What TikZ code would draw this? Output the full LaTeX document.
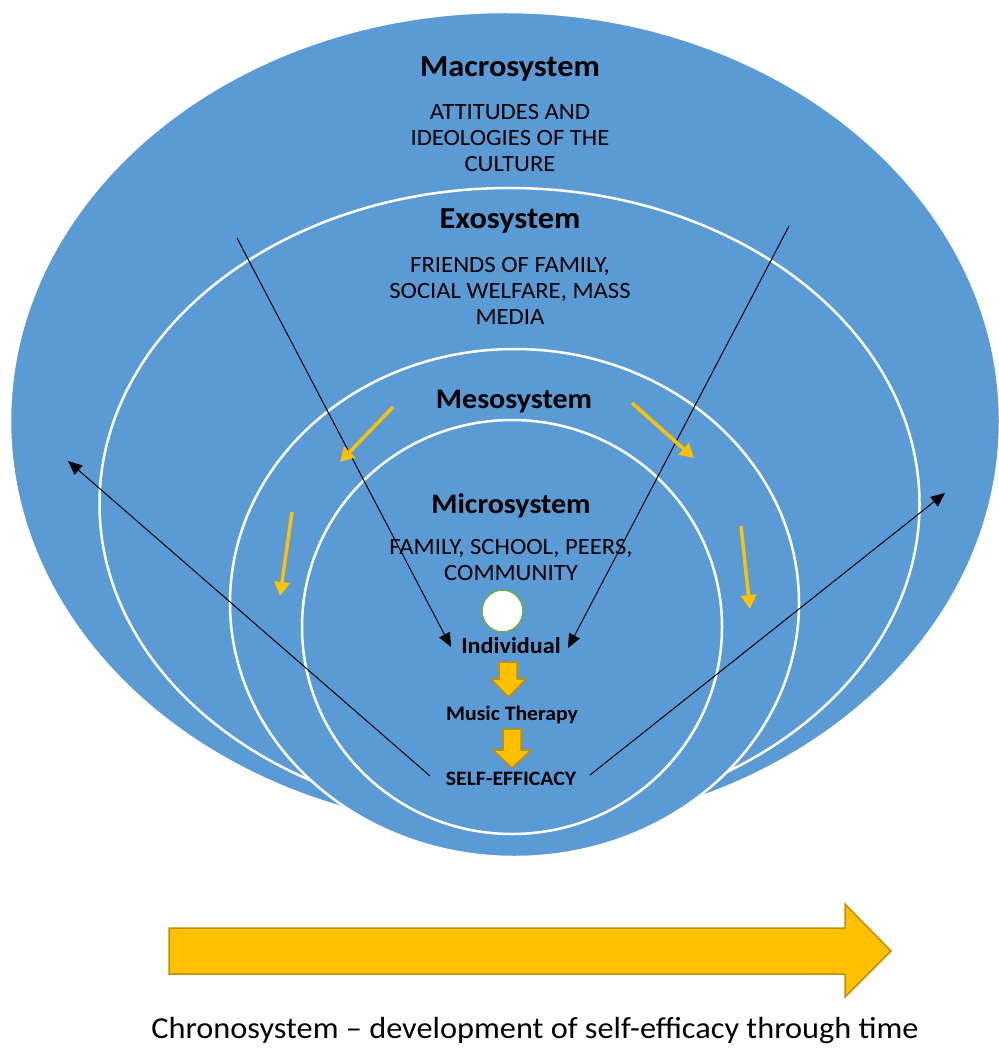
\documentclass[tikz,border=0pt]{standalone}
\usepackage{fontspec}
\setmainfont{Carlito}[FakeStretch=1.06]
\usetikzlibrary{arrows.meta,shapes.geometric}
\definecolor{ringblue}{HTML}{5B9BD5}
\definecolor{gold}{HTML}{FFC000}
\definecolor{golddark}{HTML}{BF9000}
\definecolor{leafgreen}{HTML}{70AD47}
\tikzset{
  ring/.style={fill=ringblue, draw=white, line width=2.5pt},
  title/.style={font=\bfseries\fontsize{30.5}{36}\selectfont, inner sep=0pt, anchor=base},
  subtitle/.style={font=\bfseries\fontsize{28.3}{34}\selectfont, inner sep=0pt, anchor=base},
  body/.style={font=\fontsize{23.3}{26}\selectfont, align=center, inner sep=0pt, anchor=base},
  small/.style={font=\bfseries\fontsize{20.5}{24}\selectfont, inner sep=0pt, anchor=base},
  influence/.style={-{Triangle[length=14pt,width=12pt]}, line width=1pt, black},
  flow/.style={-{Triangle[length=14pt,width=15pt]}, line width=3.5pt, gold},
  blockarrow/.style={fill=gold, draw=golddark, line width=1.5pt, line join=miter},
}
\begin{document}
\begin{tikzpicture}[x=1pt,y=-1pt]
\useasboundingbox (0,0) rectangle (998,1048);
% ellipses
\draw[ring] (505,421) ellipse [x radius=495pt, y radius=409pt];
\draw[ring] (509.5,504) ellipse [x radius=410pt, y radius=316pt];
\draw[ring] (514.5,603) ellipse [x radius=284.5pt, y radius=254pt];
\draw[ring] (512,627) ellipse [x radius=210pt, y radius=207pt];
% texts
\node[title] (macro) at (510,77) {Macrosystem};
\node[body] (macrotxt) at (510,172) {ATTITUDES AND\\IDEOLOGIES OF THE\\CULTURE};
\node[title] (exo) at (510,229) {Exosystem};
\node[body] (exotxt) at (510,324) {FRIENDS OF FAMILY,\\SOCIAL WELFARE, MASS\\MEDIA};
\node[subtitle] (meso) at (514,408) {Mesosystem};
\node[subtitle] (micro) at (511,513) {Microsystem};
\node[body] (microtxt) at (511,580) {FAMILY, SCHOOL, PEERS,\\COMMUNITY};
\node[draw=leafgreen, fill=white, line width=1.5pt, ellipse, minimum width=41pt, minimum height=42pt, inner sep=0pt] (self) at (502.5,611) {};
\node[font=\bfseries\fontsize{22.8}{28}\selectfont, inner sep=0pt, anchor=base] (indiv) at (511,653) {Individual};
\node[small] (music) at (512,720) {Music Therapy};
\node[small] (eff) at (511,785) {SELF-EFFICACY};
% block arrows
\draw[blockarrow] (499,662) -- (517,662) -- (517,679) -- (526,679) -- (508.5,697) -- (491,679) -- (499,679) -- cycle;
\draw[blockarrow] (503,729) -- (521,729) -- (521,750) -- (531,750) -- (512,768) -- (493,750) -- (503,750) -- cycle;
% influence arrows
\coordinate (b1s) at (237,238); \coordinate (b1e) at (451,647);
\coordinate (b2s) at (789,226); \coordinate (b2e) at (568,648);
\coordinate (b3s) at (430,776); \coordinate (b3e) at (68,461);
\coordinate (b4s) at (590,775); \coordinate (b4e) at (945,493);
\draw[influence] (b1s) -- (b1e);
\draw[influence] (b2s) -- (b2e);
\draw[influence] (b3s) -- (b3e);
\draw[influence] (b4s) -- (b4e);
% flow arrows
\coordinate (o1s) at (393,407); \coordinate (o1e) at (340,462);
\coordinate (o2s) at (632,403); \coordinate (o2e) at (694,458);
\coordinate (o3s) at (292,512); \coordinate (o3e) at (280,596);
\coordinate (o4s) at (741,526); \coordinate (o4e) at (750,609);
\draw[flow] (o1s) -- (o1e);
\draw[flow] (o2s) -- (o2e);
\draw[flow] (o3s) -- (o3e);
\draw[flow] (o4s) -- (o4e);
% chronosystem arrow
\draw[blockarrow] (169,928) -- (845,928) -- (845,904) -- (891,951) -- (845,997) -- (845,974) -- (169,974) -- cycle;
\node[font=\fontsize{30.5}{36}\selectfont, inner sep=0pt, anchor=base] (chrono) at (535,1038) {Chronosystem – development of self-efficacy through time};
\end{tikzpicture}
\end{document}
